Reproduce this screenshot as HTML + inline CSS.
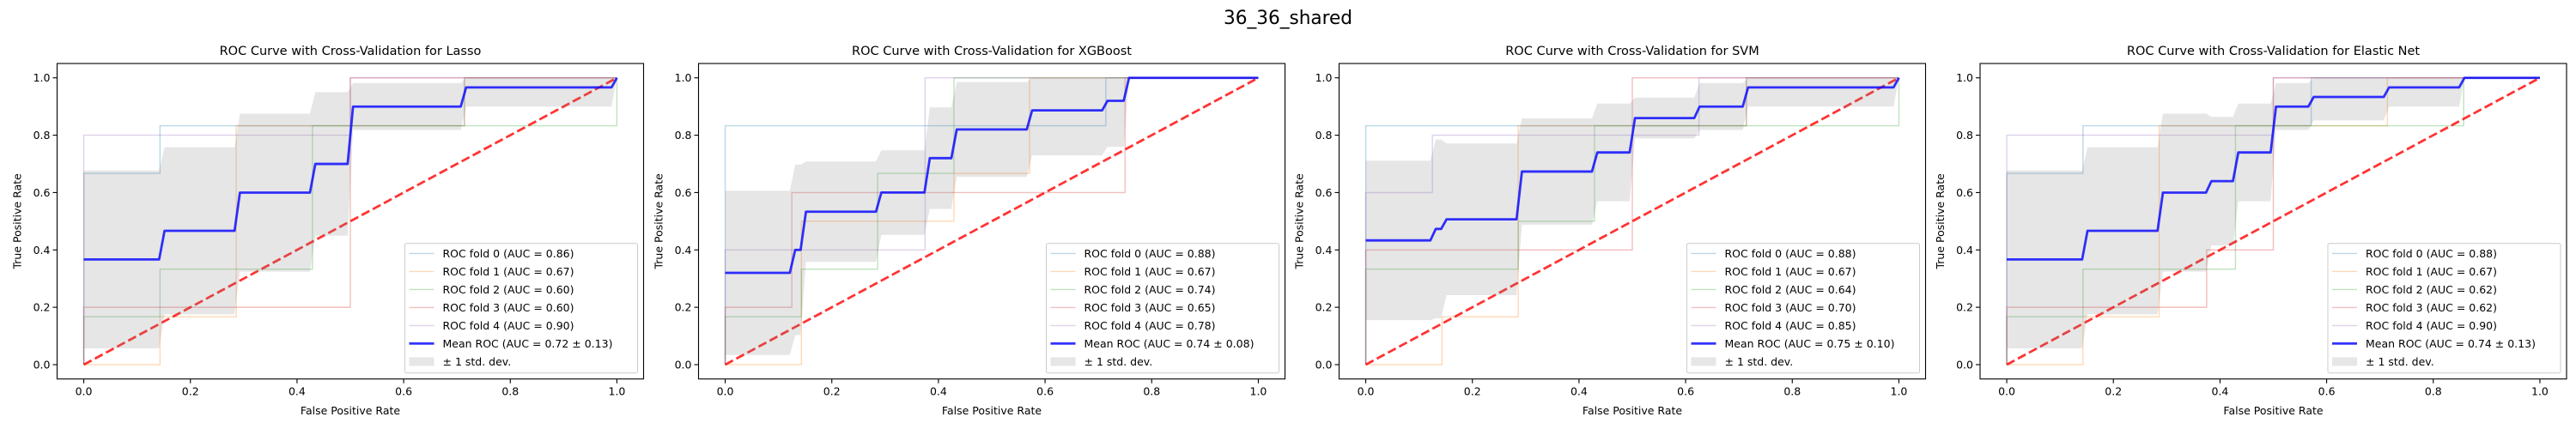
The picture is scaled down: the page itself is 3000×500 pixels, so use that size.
<!DOCTYPE html>
<html><head><meta charset="utf-8">
<style>
html,body{margin:0;padding:0;background:#fff;}
svg{display:block;font-family:"DejaVu Sans","Liberation Sans",sans-serif;}
</style></head>
<body>
<svg id="fig" width="3000" height="500" viewBox="0 0 3000 500" xmlns="http://www.w3.org/2000/svg">
<rect x="0" y="0" width="3000" height="500" fill="#fff"/>
<text x="1500" y="28" text-anchor="middle" font-size="22" textLength="150" lengthAdjust="spacingAndGlyphs">36_36_shared</text>
</svg>
<script>
// ---- data ----
const modelNames = ["Lasso", "XGBoost", "SVM", "Elastic Net"];
const foldAucs = [
  ["0.86","0.67","0.60","0.60","0.90"],
  ["0.88","0.67","0.74","0.65","0.78"],
  ["0.88","0.67","0.64","0.70","0.85"],
  ["0.88","0.67","0.62","0.62","0.90"]
];
const meanAucs = ["0.72 ± 0.13","0.74 ± 0.08","0.75 ± 0.10","0.74 ± 0.13"];
const tickValues = [0,0.2,0.4,0.6,0.8,1.0];
const tickLabels = ["0.0","0.2","0.4","0.6","0.8","1.0"];
// fold ROC curves: [fpr array, tpr array] per fold, per model
const lassoFpr = [[0,0,0.143,0.143,0.714,0.714,1],[0,0.143,0.143,0.286,0.286,0.714,0.714,1],[0,0,0.143,0.143,0.429,0.429,1,1],[0,0,0.5,0.5,1],[0,0,0.5,0.5,1]];
const lassoTpr = [[0,0.667,0.667,0.833,0.833,1,1],[0,0,0.167,0.167,0.833,0.833,1,1],[0,0.167,0.167,0.333,0.333,0.833,0.833,1],[0,0.2,0.2,1,1],[0,0.8,0.8,1,1]];
const xgbFpr = [[0,0,0.714,0.714,1],[0,0.143,0.143,0.429,0.429,0.571,0.571,1],[0,0,0.143,0.143,0.286,0.286,0.429,0.429,1],[0,0,0.125,0.125,0.75,0.75,1],[0,0,0.375,0.375,1]];
const xgbTpr = [[0,0.833,0.833,1,1],[0,0,0.5,0.5,0.667,0.667,1,1],[0,0.167,0.167,0.333,0.333,0.667,0.667,1,1],[0,0.2,0.2,0.6,0.6,1,1],[0,0.4,0.4,1,1]];
const svmFpr = [[0,0,0.714,0.714,1],[0,0.143,0.143,0.286,0.286,0.714,0.714,1],[0,0,0.286,0.286,0.429,0.429,1,1],[0,0,0.5,0.5,1],[0,0,0.125,0.125,0.625,0.625,1]];
const svmTpr = [[0,0.833,0.833,1,1],[0,0,0.167,0.167,0.833,0.833,1,1],[0,0.333,0.333,0.5,0.5,0.833,0.833,1],[0,0.4,0.4,1,1],[0,0.6,0.6,0.8,0.8,1,1]];
const enetFpr = [[0,0,0.143,0.143,0.571,0.571,1],[0,0.143,0.143,0.286,0.286,0.714,0.714,1],[0,0,0.143,0.143,0.429,0.429,0.857,0.857,1],[0,0,0.375,0.375,0.5,0.5,1],[0,0,0.5,0.5,1]];
const enetTpr = [[0,0.667,0.667,0.833,0.833,1,1],[0,0,0.167,0.167,0.833,0.833,1,1],[0,0.167,0.167,0.333,0.333,0.833,0.833,1,1],[0,0.2,0.2,0.4,0.4,1,1],[0,0.8,0.8,1,1]];
const allFpr = [lassoFpr, xgbFpr, svmFpr, enetFpr];
const allTpr = [lassoTpr, xgbTpr, svmTpr, enetTpr];

// ---- layout ----
const NS = "http://www.w3.org/2000/svg";
const svg = document.getElementById("fig");
const axLefts = [66.5, 813.5, 1559.5, 2306];
const axW = 683, axTop = 74, axBot = 441.7;
const foldColors = ["#1f77b4","#ff7f0e","#2ca02c","#d62728","#9467bd"];
function mk(tag, attrs, parent){ const e=document.createElementNS(NS,tag); for(const k in attrs) e.setAttribute(k,attrs[k]); (parent||svg).appendChild(e); return e; }
function interp(x, xp, fp){
  let j=-1; for(let i=0;i<xp.length;i++){ if(xp[i]<=x) j=i; }
  if(j<0) return fp[0];
  if(j>=xp.length-1) return fp[fp.length-1];
  const t=(x-xp[j])/(xp[j+1]-xp[j]); return fp[j]+t*(fp[j+1]-fp[j]);
}

modelNames.forEach((name, m) => {
  const L = axLefts[m];
  const sx = v => L + axW*(v+0.05)/1.1;
  const sy = v => axBot - (axBot-axTop)*(v+0.05)/1.1;
  const g = mk("g", {});
  
  
  const clipId = "clip"+m;
  const cp = mk("clipPath", {id: clipId}, g);
  mk("rect", {x:L, y:axTop, width:axW, height:axBot-axTop}, cp);
  const plot = mk("g", {"clip-path":"url(#"+clipId+")"}, g);

  const fprs = allFpr[m], tprs = allTpr[m];
  const grid = []; for(let i=0;i<100;i++) grid.push(i/99);
  const meanT=[], up=[], lo=[];
  grid.forEach(x => {
    const vals = fprs.map((f,k)=>interp(x,f,tprs[k]));
    const mu = vals.reduce((a,b)=>a+b,0)/vals.length;
    const sd = Math.sqrt(vals.reduce((a,b)=>a+(b-mu)*(b-mu),0)/vals.length);
    meanT.push(mu); up.push(Math.min(mu+sd,1)); lo.push(Math.max(mu-sd,0));
  });

  fprs.forEach((f,k) => {
    const pts = f.map((x,i)=>sx(x).toFixed(2)+","+sy(tprs[k][i]).toFixed(2)).join(" ");
    const pl = mk("polyline", {points:pts, fill:"none", stroke:foldColors[k], "stroke-width":1.39, "stroke-opacity":0.3}, plot);
    
    
  });
  const ch = mk("line", {x1:sx(0), y1:sy(0), x2:sx(1), y2:sy(1), stroke:"#ff0000", "stroke-width":2.78, "stroke-opacity":0.8, "stroke-dasharray":"10.3,4.4"}, plot);
  
  
  let bp = grid.map((x,i)=>sx(x).toFixed(2)+","+sy(up[i]).toFixed(2));
  for(let i=grid.length-1;i>=0;i--) bp.push(sx(grid[i]).toFixed(2)+","+sy(lo[i]).toFixed(2));
  const band = mk("polygon", {points:bp.join(" "), fill:"#808080", "fill-opacity":0.2}, plot);
  
  
  const mp = grid.map((x,i)=>sx(x).toFixed(2)+","+sy(meanT[i]).toFixed(2)).join(" ");
  const ml = mk("polyline", {points:mp, fill:"none", stroke:"#0000ff", "stroke-width":2.78, "stroke-opacity":0.8, "stroke-linejoin":"round"}, plot);
  
  

  const fr = mk("rect", {x:L, y:axTop, width:axW, height:axBot-axTop, fill:"none", stroke:"#000", "stroke-width":1.1}, g);
  
  
  tickValues.forEach((v,i) => {
    const x = sx(v), y = sy(v);
    mk("line", {x1:x, y1:axBot, x2:x, y2:axBot+5, stroke:"#000", "stroke-width":1.1}, g);
    const xt = mk("text", {x:x, y:axBot+19, "text-anchor":"middle", "font-size":12.5}, g);
    xt.textContent = tickLabels[i];
    
    
    mk("line", {x1:L-5, y1:y, x2:L, y2:y, stroke:"#000", "stroke-width":1.1}, g);
    const yt = mk("text", {x:L-8, y:y+4.5, "text-anchor":"end", "font-size":12.5}, g);
    yt.textContent = tickLabels[i];
    
    
  });
  const xl = mk("text", {x:L+axW/2, y:483, "text-anchor":"middle", "font-size":12.5}, g);
  xl.textContent = "False Positive Rate";
  
  
  const ycx = L-42, ycy = (axTop+axBot)/2;
  const yl = mk("text", {x:ycx, y:ycy, "text-anchor":"middle", "font-size":12.5, transform:"rotate(-90 "+ycx+" "+ycy+")"}, g);
  yl.textContent = "True Positive Rate";
  
  
  const tt = mk("text", {x:L+axW/2, y:64, "text-anchor":"middle", "font-size":14.5}, g);
  tt.textContent = "ROC Curve with Cross-Validation for " + name;
  
  

  const lw = 271, lh = 151;
  const lx = L+axW-7-lw, ly = axBot-7-lh;
  const lg = mk("g", {}, g);
  
  
  mk("rect", {x:lx, y:ly, width:lw, height:lh, rx:2, fill:"#fff", "fill-opacity":0.8, stroke:"#cccccc", "stroke-width":1}, lg);
  const labels = foldAucs[m].map((a,k)=>"ROC fold "+k+" (AUC = "+a+")");
  labels.push("Mean ROC (AUC = "+meanAucs[m]+")");
  labels.push("± 1 std. dev.");
  labels.forEach((lab,i) => {
    const cy = ly + 11.7 + i*21;
    const e = mk("g", {}, lg);
    
    
    if(i<5) mk("line", {x1:lx+5, y1:cy, x2:lx+34, y2:cy, stroke:foldColors[i], "stroke-width":1.39, "stroke-opacity":0.3}, e);
    else if(i===5) mk("line", {x1:lx+5, y1:cy, x2:lx+34, y2:cy, stroke:"#0000ff", "stroke-width":2.78, "stroke-opacity":0.8}, e);
    else mk("rect", {x:lx+5, y:cy-5, width:29, height:10, fill:"#808080", "fill-opacity":0.2}, e);
    const t = mk("text", {x:lx+44, y:cy+4.5, "font-size":12.5}, e);
    t.textContent = lab;
  });
});
</script>
</body></html>
